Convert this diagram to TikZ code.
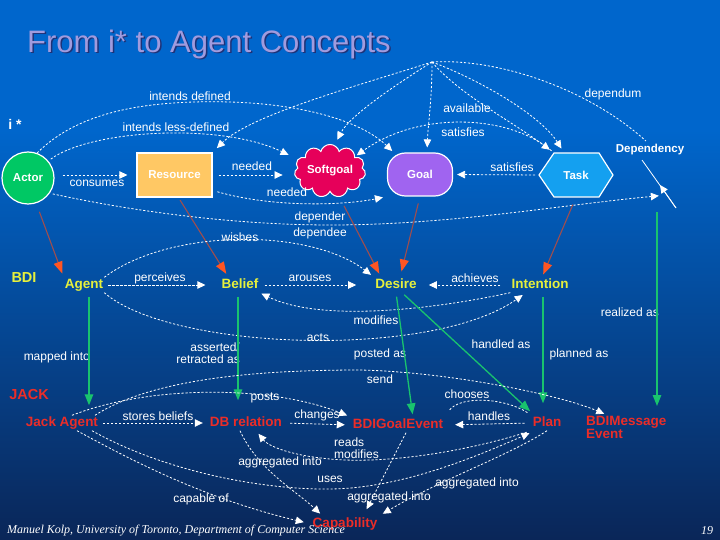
\documentclass[tikz,border=0pt]{standalone}
\usepackage{fontspec}
\setmainfont{Liberation Sans}
\newfontfamily\footfont{Liberation Serif}
\usetikzlibrary{arrows.meta,shapes.symbols,shapes.misc,calc}
\definecolor{bgtop}{RGB}{0,102,204}
\definecolor{bgmid}{RGB}{2,72,152}
\definecolor{bgbot}{RGB}{10,38,88}
\definecolor{titlec}{RGB}{160,155,222}
\definecolor{titlesh}{RGB}{30,50,120}
\definecolor{actorc}{RGB}{0,200,100}
\definecolor{resc}{RGB}{255,200,100}
\definecolor{softc}{RGB}{230,0,90}
\definecolor{goalc}{RGB}{160,100,240}
\definecolor{taskc}{RGB}{20,160,240}
\definecolor{bdiy}{RGB}{230,240,60}
\definecolor{jackr}{RGB}{235,45,40}
\definecolor{grn}{RGB}{25,195,110}
\definecolor{brn}{RGB}{160,78,78}
\definecolor{orng}{RGB}{255,85,35}
\tikzset{
  lbl/.style={text=white, font=\fontsize{12}{13}\selectfont, inner sep=1pt},
  istar/.style={text=white, font=\bfseries\fontsize{11.5}{12}\selectfont},
  bdi/.style={text=bdiy, font=\bfseries\fontsize{13.5}{14}\selectfont, inner sep=1pt, text height=10pt, text depth=3pt},
  jack/.style={text=jackr, font=\bfseries\fontsize{13.5}{14}\selectfont, inner sep=1pt, text height=10pt, text depth=3pt},
  dl/.style={draw=white, line width=0.8pt, dash pattern=on 2.2pt off 1.8pt},
  arr/.style={dl, -{Triangle[length=8pt,width=7.5pt]}},
  imap/.style={draw=brn, line width=1.1pt, -{Triangle[length=12pt,width=9pt,color=orng]}},
  gmap/.style={draw=grn, line width=1.3pt, -{Triangle[length=11pt,width=8.5pt]}},
}
\begin{document}
\begin{tikzpicture}[x=1pt,y=-1pt]
\path[use as bounding box] (0,0) rectangle (720,540);
\fill[bgtop] (0,0) rectangle (720,540);
\shade[top color=bgtop, middle color=bgmid, bottom color=bgbot] (0,130) rectangle (720,540);

% title
\node[anchor=west, text=titlesh, font=\fontsize{31}{33}\selectfont, inner sep=0] (titleshadow) at (28.5,45.5) {From i* to Agent Concepts};
\node[anchor=west, text=titlec, font=\fontsize{31}{33}\selectfont, inner sep=0] (title) at (27,44) {From i* to Agent Concepts};

% i* level
\node[text=white, font=\bfseries\fontsize{14}{14}\selectfont] (istarlbl) at (15,124) {i *};
\node[circle, fill=actorc, draw=white, line width=1.2pt, minimum size=52pt, inner sep=0, istar] (actor) at (28,178) {Actor};
\node[rectangle, fill=resc, draw=white, line width=1.2pt, minimum width=75pt, minimum height=44pt, istar] (res) at (174.5,175) {Resource};
\node[cloud, cloud puffs=11, aspect=1.6, fill=softc, draw=white, line width=1pt, minimum width=64pt, minimum height=42pt, inner sep=0pt, istar] (soft) at (330,171) {Softgoal};
\node[rectangle, rounded corners=18pt, fill=goalc, draw=white, line width=1.2pt, minimum width=65pt, minimum height=43pt, istar] (goal) at (420,174.5) {Goal};
\filldraw[fill=taskc, draw=white, line width=1.2pt] (539,175) -- (554,153) -- (599,153) -- (613,175) -- (599,197) -- (554,197) -- cycle;
\node[istar, minimum width=74pt, minimum height=44pt] (task) at (576,175) {Task};
\node[istar] (depn) at (650,150) {Dependency};

\coordinate (hub) at (432,62);
\coordinate (depa) at (642,160);
\coordinate (depb) at (676,208);
\coordinate (depm) at (660,185);
\coordinate (depx) at ($(depa)!0.73!(depb)$);
\coordinate (gtop) at (657,212);

% Dependency line
\draw[white, line width=0.8pt] (depa) -- (depb);
\draw[white, line width=0.8pt, -{Triangle[length=8pt,width=7.5pt]}] (depb) -- (depm);

% i* connectors
\draw[arr, shorten <=8pt, shorten >=9pt] (actor.east |- res.west) -- (res.west);
\node[lbl] (lconsumes) at (97,183) {consumes};
\draw[arr, shorten <=6pt, shorten >=12pt] (res.east) -- (res.east -| soft.west);
\node[lbl] (lneeded1) at (252,166) {needed};
\draw[arr, shorten <=5pt, shorten >=4pt] (res.-22) .. controls (270,207) and (340,206) .. (goal.south west);
\node[lbl] (lneeded2) at (287,192) {needed};
\draw[arr, shorten <=3pt, shorten >=10pt] (actor.40) .. controls (90,130) and (220,122) .. (soft.160);
\node[lbl] (lless) at (176,127) {intends less-defined};
\draw[arr, shorten >=2pt] (actor.70) .. controls (80,110) and (150,100) .. (230,102) .. controls (300,104) and (360,120) .. (goal.140);
\node[lbl] (ldefined) at (190,96) {intends defined};
% hub fan
\draw[arr, shorten >=6pt] (hub) .. controls (360,85) and (250,115) .. (res.north east);
\draw[arr, shorten >=6pt] (hub) .. controls (400,82) and (350,115) .. (soft.80);
\draw[arr, shorten >=5pt] (hub) .. controls (432,100) and (428,125) .. ([xshift=7pt]goal.north);
\draw[arr, shorten >=5pt] (hub) .. controls (480,80) and (540,115) .. (task.118);
\draw[arr, shorten >=5pt] (hub) .. controls (460,95) and (510,120) .. (task.135);
\node[lbl] (lavail) at (467,108) {available};
\draw[arr, shorten <=3pt, shorten >=2pt] (task.135) .. controls (510,115) and (420,110) .. (soft.30);
\node[lbl] (lsat1) at (463,132) {satisfies};
\draw[dl] (hub) .. controls (500,58) and (590,90) .. ([xshift=-4pt]depn.north);
\node[lbl] (ldependum) at (613,94) {dependum};
\draw[arr, shorten <=4pt, shorten >=4pt] (539,175) -- (goal.east);
\node[lbl] (lsat2) at (512,167) {satisfies};
\draw[arr, shorten <=3pt, shorten >=8pt] (actor.-35) .. controls (150,215) and (250,225) .. (330,225) .. controls (450,225) and (560,205) .. (depx);
\node[lbl] (ldepender) at (320,217) {depender};
\node[lbl] (ldependee) at (320,233) {dependee};

% BDI level
\node[text=bdiy, font=\bfseries\fontsize{14.5}{15}\selectfont] (bdilbl) at (24,278) {BDI};
\node[bdi] (agent) at (84,285) {Agent};
\node[bdi] (belief) at (240,285) {Belief};
\node[bdi] (desire) at (396,285) {Desire};
\node[bdi] (intention) at (540,285) {Intention};

\draw[imap, shorten <=9pt, shorten >=4pt] (actor.-72) -- (agent.north west);
\draw[imap, shorten <=3pt, shorten >=4pt] (res.-80) -- ([xshift=8pt]belief.north west);
\draw[imap, shorten <=10pt, shorten >=4pt] (soft.-70) -- ([xshift=7pt]desire.north west);
\draw[imap, shorten <=7pt, shorten >=6pt] (goal.south) -- ([xshift=4pt]desire.north);
\draw[imap, shorten <=8pt, shorten >=3pt] (task.south) -- ([xshift=2pt]intention.north);

\draw[arr, shorten <=4pt, shorten >=15pt] (agent.east) -- (belief.west);
\node[lbl] (lperceives) at (160,278) {perceives};
\draw[arr, shorten <=5pt, shorten >=18pt] (belief.east) -- (desire.west);
\node[lbl] (larouses) at (310,278) {arouses};
\draw[arr, shorten <=10pt, shorten >=11pt] (intention.west) -- (desire.east);
\node[lbl] (lachieves) at (475,278) {achieves};
\draw[arr, shorten >=4pt] (agent.north east) .. controls (170,228) and (310,228) .. (desire.north west);
\node[lbl] (lwishes) at (240,237) {wishes};
\draw[arr, shorten >=2pt] (intention.south west) .. controls (430,310) and (320,322) .. (belief.south east);
\node[lbl] (lmodifies1) at (376,320) {modifies};
\draw[arr, shorten >=4pt] (agent.south east) .. controls (170,350) and (430,360) .. ([xshift=-14pt]intention.south);
\node[lbl] (lacts) at (318,338) {acts};

\node[lbl, align=right, anchor=east, font=\fontsize{12}{12}\selectfont] (lasserted) at (241,353) {asserted/\\retracted as};
\node[lbl, anchor=east] (lmapped) at (91,357) {mapped into};
\node[lbl] (lposted) at (380,354) {posted as};
\node[lbl] (lhandled) at (501,344) {handled as};
\node[lbl] (lplanned) at (579,354) {planned as};
\node[lbl, anchor=east] (lrealized) at (660,312) {realized as};

% JACK level
\node[text=jackr, font=\bfseries\fontsize{14.5}{15}\selectfont] (jacklbl) at (29,395) {JACK};
\node[jack] (jackag) at (62,423) {Jack Agent};
\node[jack] (dbrel) at (246,423) {DB relation};
\node[jack] (bdigoal) at (398,425) {BDIGoalEvent};
\node[jack] (plan) at (547,423) {Plan};
\node[text=jackr, font=\bfseries\fontsize{13.5}{11.5}\selectfont, align=left, anchor=north west, inner sep=1pt] (bdimsg) at (585,415) {BDIMessage\\Event};
\node[jack] (capab) at (345,524) {Capability};

% green mappings
\draw[gmap, shorten <=4pt, shorten >=10pt] ([xshift=5pt]agent.south) -- ([xshift=27pt]jackag.north);
\draw[gmap, shorten <=4pt, shorten >=15pt] ([xshift=-2pt]belief.south) -- ([xshift=-8pt]dbrel.north);
\draw[gmap, shorten <=4pt, shorten >=3pt] (desire.south) -- ([xshift=15pt]bdigoal.north);
\draw[gmap, shorten <=3pt, shorten >=6pt] ([xshift=6pt]desire.south) -- ([xshift=3pt]plan.north west);
\draw[gmap, shorten <=4pt, shorten >=12pt] ([xshift=3pt]intention.south) -- ([xshift=-4pt]plan.north);
\draw[gmap, shorten >=9pt] (gtop) -- (gtop |- bdimsg.north);

% JACK connectors
\draw[arr, shorten <=4pt, shorten >=6pt] (jackag.east) -- (dbrel.west);
\node[lbl] (lstores) at (158,416) {stores beliefs};
\draw[arr, shorten <=7pt, shorten >=7pt] (dbrel.east) -- (bdigoal.west);
\node[lbl] (lchanges) at (317,415) {changes};
\draw[arr, shorten <=7pt, shorten >=11pt] (plan.west) -- (bdigoal.east);
\node[lbl] (lhandles) at (489,416) {handles};
\draw[dl, shorten <=5pt, shorten >=8pt] (plan.north west) .. controls (505,398) and (460,395) .. (bdigoal.north east);
\node[lbl] (lchooses) at (467,394) {chooses};
\draw[arr, shorten >=5pt] ([xshift=10pt]jackag.north) .. controls (150,385) and (270,385) .. (bdigoal.north west);
\node[lbl] (lposts) at (265,398) {posts};
\draw[arr, shorten >=3pt] ([xshift=33pt]jackag.north) .. controls (150,380) and (250,370) .. (360,370) .. controls (450,372) and (560,395) .. ([xshift=22pt]bdimsg.north west);
\node[lbl] (lsend) at (380,379) {send};
\draw[arr, shorten <=5pt, shorten >=4pt] (plan.south west) .. controls (470,450) and (400,462) .. (345,460) .. controls (300,458) and (270,448) .. ([xshift=10pt]dbrel.south);
\node[lbl, anchor=west] (lreads) at (333,442) {reads};
\node[lbl, anchor=west] (lmodifies2) at (333,454) {modifies};
\draw[arr, shorten >=6pt] ([xshift=30pt]jackag.south) .. controls (180,480) and (300,495) .. (360,487) .. controls (420,480) and (480,455) .. ([xshift=-12pt]plan.south);
\node[lbl] (luses) at (330,479) {uses};
\draw[arr, shorten >=8pt] ([xshift=15pt]jackag.south) .. controls (140,465) and (210,500) .. (capab.west);
\node[lbl] (lcapable) at (201,499) {capable of};
\draw[arr, shorten >=4pt] ([xshift=-6pt]dbrel.south) .. controls (258,470) and (295,490) .. ([xshift=-22pt]capab.north);
\node[lbl] (lagg1) at (280,462) {aggregated into};
\draw[arr, shorten >=8pt] ([xshift=8pt]bdigoal.south) -- ([xshift=18pt]capab.north);
\node[lbl] (lagg2) at (389,497) {aggregated into};
\draw[arr, shorten >=5pt] (plan.south) .. controls (510,455) and (440,480) .. (capab.north east);
\node[lbl] (lagg3) at (477,483) {aggregated into};

% footer
\node[anchor=west, text=white, font=\footfont\itshape\fontsize{12}{12}\selectfont, inner sep=0] (footer) at (7,531) {Manuel Kolp, University of Toronto, Department of Computer Science};
\node[text=white, font=\footfont\itshape\fontsize{12}{12}\selectfont] (pagenum) at (707,531) {19};
\end{tikzpicture}
\end{document}
